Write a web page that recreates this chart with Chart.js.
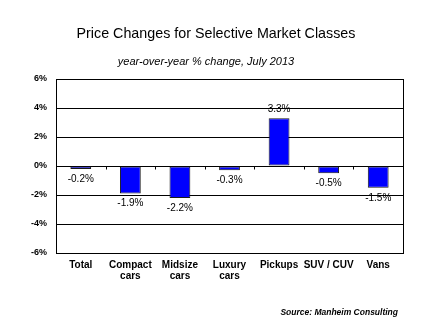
<!DOCTYPE html>
<html>
<head>
<meta charset="utf-8">
<script src="https://cdn.jsdelivr.net/npm/chart.js@4/dist/chart.umd.min.js"></script>
<style>
  html, body { margin: 0; padding: 0; background: #fff; }
  #wrap { width: 432px; height: 324px; position: relative; }
</style>
</head>
<body>
<div id="wrap"><canvas id="priceChart" width="432" height="324"></canvas></div>
<script>
// Market classes and year-over-year price change (%)
const categories = [['Total'], ['Compact', 'cars'], ['Midsize', 'cars'], ['Luxury', 'cars'], ['Pickups'], ['SUV / CUV'], ['Vans']];
const changes = [-0.2, -1.9, -2.2, -0.3, 3.3, -0.5, -1.5];
const yTicks = [-6, -4, -2, 0, 2, 4, 6];

const FONT = '"Liberation Sans", Arial, sans-serif';

// Titles, plot frame, zero-line ticks and value labels
const decorations = {
  id: 'decorations',
  afterDraw(chart) {
    const { ctx, chartArea: a, scales: { x, y } } = chart;
    ctx.save();

    // frame around the plot
    ctx.strokeStyle = '#000';
    ctx.lineWidth = 1;
    ctx.strokeRect(Math.round(a.left) + 0.5, Math.round(a.top) + 0.5,
                   Math.round(a.right - a.left), Math.round(a.bottom - a.top));

    // small tick marks on the zero line between categories
    const y0 = Math.round(y.getPixelForValue(0)) + 0.5;
    const step = (a.right - a.left) / categories.length;
    ctx.beginPath();
    for (let i = 1; i < categories.length; i++) {
      const px = Math.round(a.left + step * i) + 0.5;
      ctx.moveTo(px, y0);
      ctx.lineTo(px, y0 + 3);
    }
    ctx.stroke();

    // value labels
    ctx.fillStyle = '#000';
    ctx.font = '10px ' + FONT;
    ctx.textAlign = 'center';
    ctx.textBaseline = 'middle';
    chart.getDatasetMeta(0).data.forEach((bar, i) => {
      const v = changes[i];
      const ty = v >= 0 ? bar.y - 9 : bar.y + 10;
      ctx.fillText(v.toFixed(1) + '%', bar.x, ty);
    });

    // titles
    ctx.font = '14.3px ' + FONT;
    ctx.fillText('Price Changes for Selective Market Classes', 216, 34);
    ctx.font = 'italic 11px ' + FONT;
    ctx.fillText('year-over-year % change, July 2013', 206, 62);
    ctx.font = 'italic bold 8.5px ' + FONT;
    ctx.textAlign = 'right';
    ctx.fillText('Source: Manheim Consulting', 398, 313);

    ctx.restore();
  }
};

new Chart(document.getElementById('priceChart'), {
  type: 'bar',
  data: {
    labels: categories,
    datasets: [{
      data: changes,
      backgroundColor: '#0000ff',
      borderColor: '#1a1a1a',
      borderWidth: 1,
      borderSkipped: false,
      barPercentage: 0.42,
      categoryPercentage: 1
    }]
  },
  options: {
    responsive: false,
    animation: false,
    layout: { padding: { left: 0, right: 29, top: 79, bottom: 0 } },
    plugins: {
      legend: { display: false },
      title: { display: false },
      tooltip: { enabled: false }
    },
    scales: {
      x: {
        grid: { display: false, drawTicks: false },
        border: { display: false },
        afterFit(scale) { scale.height = 71; },
        ticks: {
          color: '#000',
          padding: 7,
          maxRotation: 0,
          autoSkip: false,
          font: { family: FONT, size: 10, weight: 'bold', lineHeight: 1.07 }
        }
      },
      y: {
        min: -6,
        max: 6,
        afterFit(scale) { scale.width = 56; },
        afterBuildTicks(scale) { scale.ticks = yTicks.map(v => ({ value: v })); },
        grid: { color: '#000', lineWidth: 1, drawTicks: false },
        border: { display: false },
        ticks: {
          color: '#000',
          padding: 9,
          font: { family: FONT, size: 9, weight: 'bold' },
          callback: v => v + '%'
        }
      }
    }
  },
  plugins: [decorations]
});
</script>
</body>
</html>
